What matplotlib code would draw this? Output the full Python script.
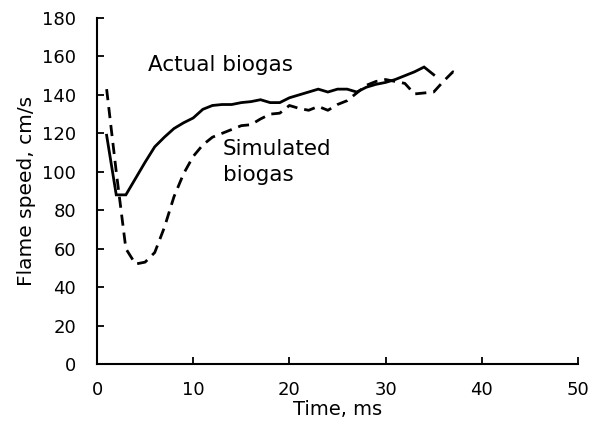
import numpy as np
import matplotlib
matplotlib.use("Agg")
import matplotlib.pyplot as plt

# Actual biogas (solid), sampled each ms
actual_t = [1, 2, 3, 4, 5, 6, 7, 8, 9, 10, 11, 12, 13, 14, 15, 16, 17, 18,
            19, 20, 21, 22, 23, 24, 25, 26, 27, 28, 29, 30, 31, 32, 33, 34, 35]
actual_v = [119, 88, 88, 96.5, 105, 113, 118, 122.5, 125.5, 128, 132.5, 134.5,
            135, 135, 136, 136.5, 137.5, 136, 136, 138.5, 140, 141.5, 143,
            141.5, 143, 143, 141.5, 144, 145.5, 146.5, 148, 150, 152, 154.5,
            150.5]

# Simulated biogas (dashed)
sim_t = [1, 2, 3, 4, 5, 6, 7, 8, 9, 10, 11, 12, 13, 14, 15, 16, 17, 18, 19,
         20, 21, 22, 23, 24, 25, 26, 27, 28, 29, 30, 31, 32, 33, 34, 35, 36,
         37, 37.5]
sim_v = [143, 100, 60, 52, 53, 58, 71, 87, 99, 108, 114, 118, 120, 122, 124,
         124.5, 127.5, 130, 130.5, 134.5, 133, 132, 134, 132, 135, 137, 141,
         145, 147, 148, 147, 146, 140.5, 141, 141.5, 147, 152, 151]

xticks = [0, 10, 20, 30, 40, 50]
yticks = list(range(0, 181, 20))

plt.rcParams['font.family'] = ['DejaVu Sans']
fs = 13

fig = plt.figure(figsize=(5.89, 4.24), dpi=100)
ax = fig.add_axes([0.1647, 0.1415, 0.8166, 0.816])

ax.plot(actual_t, actual_v, c='k', lw=2.0, solid_joinstyle='miter')
ax.plot(sim_t, sim_v, c='k', lw=2.0, ls=(0, (4, 2.5)))

ax.set_xlim(0, 50)
ax.set_ylim(0, 180)
ax.set_xticks(xticks)
ax.set_yticks(yticks)
ax.tick_params(direction='in', length=5, width=1.3, labelsize=fs)
ax.tick_params(axis='x', pad=12)
ax.tick_params(axis='y', pad=15)
for s in ['top', 'right']:
    ax.spines[s].set_visible(False)
for s in ['left', 'bottom']:
    ax.spines[s].set_linewidth(1.5)

ax.set_xlabel('Time, ms', fontsize=14, labelpad=1)
ax.set_ylabel('Flame speed, cm/s', fontsize=14.5, labelpad=4)

ax.text(5.3, 155.5, 'Actual biogas', fontsize=15.5, va='center', ha='left')
ax.text(13.1, 105, 'Simulated\nbiogas', fontsize=15.5, va='center', ha='left',
        linespacing=1.35)

fig.savefig('out.png', dpi=100)
